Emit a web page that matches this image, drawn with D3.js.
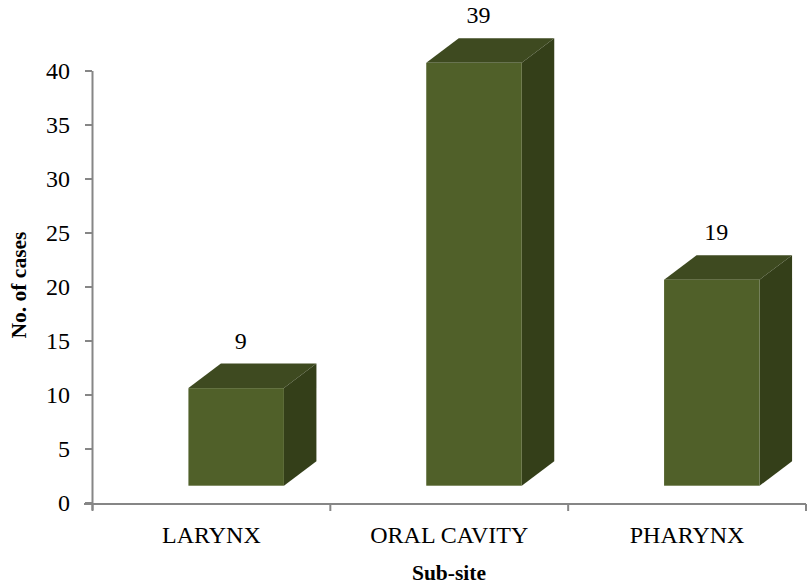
<!DOCTYPE html>
<html><head><meta charset="utf-8">
<script src="https://cdn.jsdelivr.net/npm/d3@7"></script>
<style>html,body{margin:0;background:#fff}svg{display:block}text{font-family:"Liberation Serif",serif;fill:#000}</style>
</head><body><script>
const categories = ["LARYNX","ORAL CAVITY","PHARYNX"];
const values = [9,39,19];
const yTicks = [0,5,10,15,20,25,30,35,40];
const W=807,H=585;
const svg=d3.select("body").append("svg").attr("width",W).attr("height",H);
const x=d3.scaleBand().domain(categories).range([92.5,806]);
const y=d3.scaleLinear().domain([0,40]).range([503,71]);
const barH=d3.scaleLinear().domain([0,40]).range([485.7,52]);
const dx=32.5,dy=-24.5,fw=95.5,off=-23;
const g=svg.selectAll("g.bar").data(categories.map((c,i)=>({c,v:values[i]}))).enter().append("g");
const L=d=>x(d.c)+x.bandwidth()/2+off, T=d=>barH(d.v), B=barH(0);
g.append("path").attr("fill","#3e4a20").attr("d",d=>`M${L(d)},${T(d)}l${dx},${dy}h${fw}l${-dx},${-dy}z`);
g.append("path").attr("fill","#343f19").attr("d",d=>`M${L(d)+fw},${T(d)}l${dx},${dy}V${B+dy}l${-dx},${-dy}z`);
g.append("rect").attr("fill","#506029").attr("x",L).attr("y",T).attr("width",fw).attr("height",d=>B-T(d));
g.append("text").attr("x",d=>L(d)+fw/2+4.5).attr("y",d=>T(d)+dy-15).attr("text-anchor","middle").attr("font-size",24).text(d=>d.v);
const grey="#868686";
const ax=svg.append("g").attr("stroke",grey).attr("stroke-width",2).attr("fill","none");
ax.append("line").attr("x1",92.5).attr("x2",92.5).attr("y1",71).attr("y2",510);
ax.append("line").attr("x1",84).attr("x2",806).attr("y1",y(0)+1).attr("y2",y(0)+1);
ax.selectAll("line.t").data(yTicks).enter().append("line").attr("x1",85).attr("x2",92).attr("y1",d=>y(d)).attr("y2",d=>y(d));
ax.selectAll("line.x").data([...categories.map(c=>x(c)),806]).enter().append("line").attr("x1",d=>d).attr("x2",d=>d).attr("y1",504).attr("y2",511);
svg.selectAll("text.y").data(yTicks).enter().append("text").attr("x",70).attr("y",d=>y(d)+8).attr("text-anchor","end").attr("font-size",24).text(d=>d);
svg.selectAll("text.x").data(categories).enter().append("text").attr("x",c=>x(c)+x.bandwidth()/2).attr("y",543).attr("text-anchor","middle").attr("font-size",24).text(c=>c);
svg.append("text").attr("x",449).attr("y",580).attr("text-anchor","middle").attr("font-size",21.5).attr("font-weight","bold").text("Sub-site");
svg.append("text").attr("transform","translate(26,285) rotate(-90)").attr("text-anchor","middle").attr("font-size",21.5).attr("font-weight","bold").text("No. of cases");
</script></body></html>
